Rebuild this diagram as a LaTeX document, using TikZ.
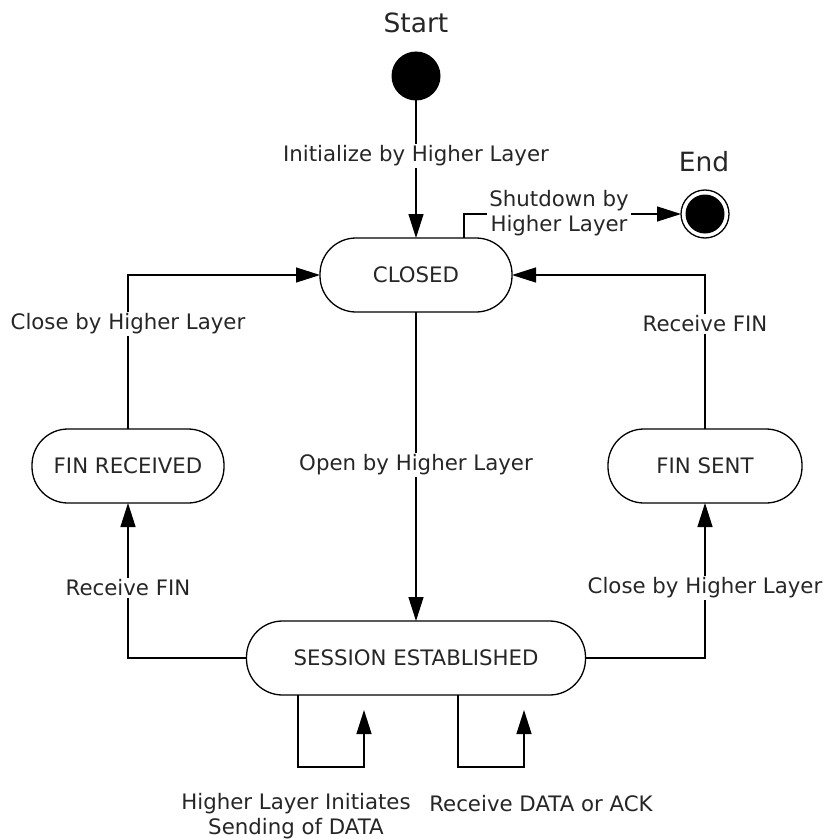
\documentclass[tikz,border=0pt]{standalone}
\usepackage{fontspec}
\setmainfont{DejaVu Sans}
\usetikzlibrary{arrows.meta,calc}
\begin{document}
\begin{tikzpicture}[x=1pt,y=-1pt,
  every node/.style={font=\fontsize{21.3}{25}\selectfont, text=black!85},
  state/.style={draw, line width=1.3pt, rounded corners=36pt, minimum height=74pt, inner sep=0pt, outer sep=0pt},
  conn/.style={line width=1.3pt},
  arr/.style={conn, -{Triangle[length=24pt,width=15pt]}},
  lbl/.style={fill=white, inner sep=2pt, align=center},
  title/.style={font=\fontsize{26.5}{30}\selectfont}
]
\useasboundingbox (0,0) rectangle (825,840);
% states
\node[state, minimum width=192pt] (closed) at (416,275) {CLOSED};
\node[state, minimum width=192pt] (finrecv) at (128,466) {FIN RECEIVED};
\node[state, minimum width=194pt] (finsent) at (705,466) {FIN SENT};
\node[state, minimum width=339pt] (sess) at (416,658) {SESSION ESTABLISHED};
\node[circle, fill=black, minimum size=49pt, inner sep=0pt, outer sep=0pt] (start) at (416,76) {};
\node[circle, draw, line width=1.3pt, minimum size=48pt, inner sep=0pt, outer sep=0pt,
  path picture={\fill[black] (path picture bounding box.center) circle (19.5pt);}] (end) at (705,214) {};
\node[title] (starttxt) at (416,23) {Start};
\node[title] (endtxt) at (704,162) {End};
% connectors
\draw[arr] (start) -- (closed);
\draw[arr] (closed) -- (sess);
\draw[arr] ($(closed.north)+(48,0)$) -- ++(0,-24) -- (end);
\draw[arr] (finrecv.north) |- (closed.west);
\draw[arr] (finsent.north) |- (closed.east);
\draw[arr] (sess.west) -| (finrecv.south);
\draw[arr] (sess.east) -| (finsent.south);
\coordinate (loopA) at (364,710);
\coordinate (loopB) at (524,710);
\draw[arr] ($(sess.south)+(-118,0)$) -- ++(0,72) -| (loopA);
\draw[arr] ($(sess.south)+(42,0)$) -- ++(0,72) -| (loopB);
% labels
\node[lbl] (linit) at (416,156) {Initialize by Higher Layer};
\node[lbl] (lopen) at (416,465) {Open by Higher Layer};
\node[lbl] (lshut) at (559,213) {Shutdown by\\Higher Layer};
\node[lbl] (lclose1) at (128,324) {Close by Higher Layer};
\node[lbl] (lrecv1) at (705,324) {Receive FIN};
\node[lbl] (lrecv2) at (128,588) {Receive FIN};
\node[lbl] (lclose2) at (705,588) {Close by Higher Layer};
\node[lbl] (lsend) at (296,816) {Higher Layer Initiates\\Sending of DATA};
\node[lbl] (ldata) at (541,804) {Receive DATA or ACK};
\end{tikzpicture}
\end{document}
